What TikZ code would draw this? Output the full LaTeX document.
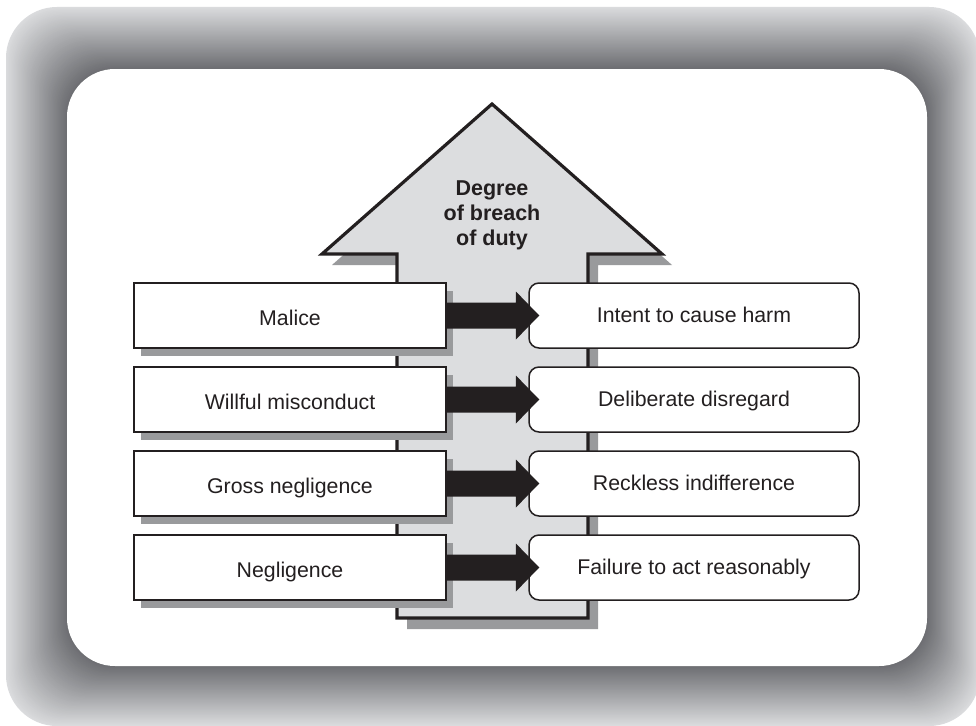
\documentclass[tikz,border=0pt]{standalone}
\usepackage{fontspec}
\setmainfont{Liberation Sans}
\usetikzlibrary{calc}
\definecolor{ink}{HTML}{231F20}
\definecolor{shaftgray}{HTML}{DCDDDF}
\definecolor{shadowgray}{HTML}{999A9C}
\definecolor{frameDark}{HTML}{6C6D71}
\definecolor{frameLight}{HTML}{DADBDD}

\tikzset{
  leftbox/.style={draw=ink, line width=1.8pt, fill=white, rectangle,
    minimum width=312pt, minimum height=65pt, inner sep=0pt,
    text height=19pt, text depth=0pt,
    font=\fontsize{21.3}{25}\selectfont, text=ink},
  rightbox/.style={draw=ink, line width=1.5pt, fill=white, rectangle,
    rounded corners=10pt, minimum width=330pt, minimum height=65pt,
    inner sep=0pt, text height=14pt, text depth=0pt,
    font=\fontsize{21.3}{25}\selectfont, text=ink},
  boxshadow/.style={fill=shadowgray},
  flowarrow/.style={fill=ink},
}

\begin{document}
\begin{tikzpicture}[x=1pt,y=-1pt]
\useasboundingbox (0,0) rectangle (976,725);
\fill[white] (0,0) rectangle (976,725);

% graded frame: nested rounded bands, light outside to dark inside
\foreach \i in {0,...,48}{
  \pgfmathsetmacro\f{\i/48}
  \pgfmathsetmacro\pc{100*\f}
  \pgfmathsetmacro\rr{51-3*\f}
  \colorlet{band}{frameDark!\pc!frameLight}
  \fill[band, rounded corners=\rr pt]
    (6+61*\f, 7+62*\f) rectangle (980-53*\f, 726-60*\f);
}
\fill[white, rounded corners=48pt] (67,69) rectangle (927,666);

% big upward arrow with its shadow
\fill[shadowgray, shift={(10,11)}]
  (492,104) -- (662,254) -- (588,254) -- (588,618) -- (397,618)
  -- (397,254) -- (322,254) -- cycle;
\draw[ink, fill=shaftgray, line width=3.2pt]
  (492,104) -- (662,254) -- (588,254) -- (588,618) -- (397,618)
  -- (397,254) -- (322,254) -- cycle;
\node[align=center, text=ink, font=\fontsize{21.5}{25}\selectfont\bfseries]
  (title) at (492,215) {Degree\\of breach\\of duty};

% shadows under the left boxes
\foreach \y in {315.5,399.5,483.5,567.5}{
  \fill[boxshadow] (141,\y-24.5) rectangle (453,\y+40.5);
}

% left column
\node[leftbox] (m1) at (290,315.5) {Malice};
\node[leftbox] (m2) at (290,399.5) {Willful misconduct};
\node[leftbox] (m3) at (290,483.5) {Gross negligence};
\node[leftbox] (m4) at (290,567.5) {Negligence};

% right column
\node[rightbox] (i1) at (694,315.5) {Intent to cause harm};
\node[rightbox] (i2) at (694,399.5) {Deliberate disregard};
\node[rightbox] (i3) at (694,483.5) {Reckless indifference};
\node[rightbox] (i4) at (694,567.5) {Failure to act reasonably};

% block arrows from left to right
\foreach \k in {1,...,4}{
  \fill[flowarrow] (m\k.east) ++(0,-13) -- ++(69,0) -- ++(0,-11)
    -- ($(i\k.west)+(11,0)$) -- ($(m\k.east)+(69,24)$) -- ++(0,-11)
    -- ++(-69,0) -- cycle;
}
\end{tikzpicture}
\end{document}
